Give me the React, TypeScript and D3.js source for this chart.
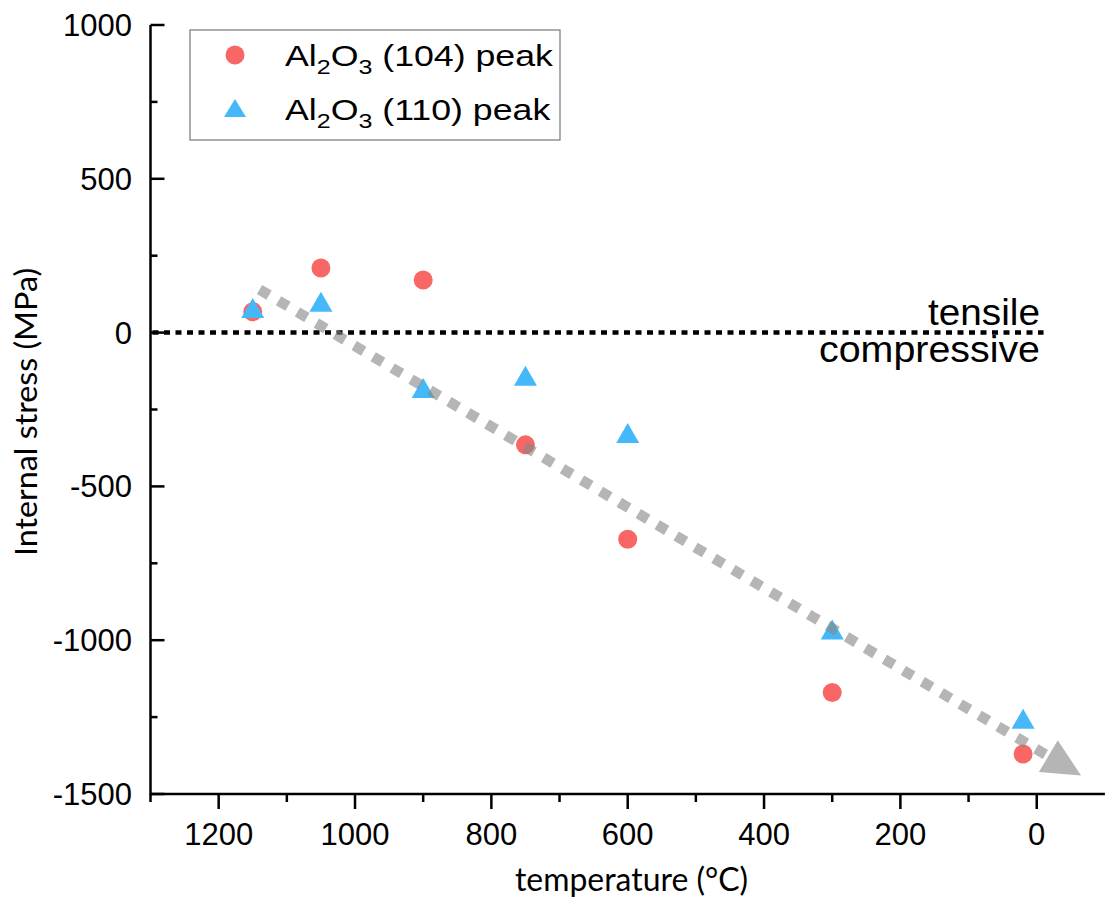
import React from 'react';
import * as d3 from 'd3';

const temps104 = [1150, 1050, 900, 750, 600, 300, 20];
const stress104 = [68, 210, 171, -365, -672, -1170, -1370];
const temps110 = [1150, 1050, 900, 750, 600, 300, 20];
const stress110 = [80, 100, -180, -140, -326, -965, -1255];
const xTicks = [1200, 1000, 800, 600, 400, 200, 0];
const xMinor = [1300, 1100, 900, 700, 500, 300, 100];
const yTicks = [1000, 500, 0, -500, -1000, -1500];
const yMinor = [750, 250, -250, -750, -1250];
const trendStart = [1140, 140];
const trendEnd = [-65, -1440];
const zeroLine = [1300, -10];

const RED = '#F96666';
const BLUE = '#45B8FA';
const TICKFONT = '"Liberation Sans", Arial, sans-serif';
const TITLEFONT = 'Lato, "Open Sans", sans-serif';

export default function App() {
  const W = 1105, H = 910;
  const x = d3.scaleLinear().domain([1300, -100]).range([150.5, 1104.9]);
  const y = d3.scaleLinear().domain([-1500, 1000]).range([794, 25]);
  const x0 = x(1300), y0 = y(-1500);

  const tri = (cx: number, cy: number, w = 23, h = 20) =>
    `M${cx},${cy - h / 2}L${cx + w / 2},${cy + h / 2}L${cx - w / 2},${cy + h / 2}Z`;

  // trend arrow
  const sx = x(trendStart[0]), sy = y(trendStart[1]);
  const ex = x(trendEnd[0]), ey = y(trendEnd[1]);
  const ang = Math.atan2(ey - sy, ex - sx);
  const headLen = 38, headHalf = 18.5;
  const bx = ex - headLen * Math.cos(ang), by = ey - headLen * Math.sin(ang);
  const px = -Math.sin(ang), py = Math.cos(ang);
  const head = `M${ex},${ey}L${bx + headHalf * px},${by + headHalf * py}L${bx - headHalf * px},${by - headHalf * py}Z`;

  const legendRows = [
    { label: '104', color: RED, kind: 'circle' },
    { label: '110', color: BLUE, kind: 'tri' },
  ];

  return (
    <svg width={W} height={H} style={{ position: 'absolute', left: 0, top: 0, background: '#fff' }}>
      {/* axes */}
      <line x1={x0} x2={x(-100)} y1={y0} y2={y0} stroke="#000" strokeWidth={2.5} />
      <line x1={x0} x2={x0} y1={y(1000)} y2={y0 + 1.25} stroke="#000" strokeWidth={2.5} />
      {xTicks.map((t) => (
        <g key={'xt' + t}>
          <line x1={x(t)} x2={x(t)} y1={y0} y2={y0 + 15} stroke="#000" strokeWidth={2.5} />
          <text x={x(t)} y={844.5} textAnchor="middle" fontFamily={TICKFONT} fontSize={31} fill="#000">{t}</text>
        </g>
      ))}
      {xMinor.map((t) => (
        <line key={'xm' + t} x1={x(t)} x2={x(t)} y1={y0} y2={y0 + 8} stroke="#000" strokeWidth={2.5} />
      ))}
      {yTicks.map((t) => (
        <g key={'yt' + t}>
          <line x1={x0} x2={x0 + 14} y1={y(t)} y2={y(t)} stroke="#000" strokeWidth={2.5} />
          <text x={132} y={y(t) + 11} textAnchor="end" fontFamily={TICKFONT} fontSize={31} fill="#000">{t}</text>
        </g>
      ))}
      {yMinor.map((t) => (
        <line key={'ym' + t} x1={x0} x2={x0 + 7} y1={y(t)} y2={y(t)} stroke="#000" strokeWidth={2.5} />
      ))}

      {/* axis titles */}
      <text x={631.5} y={891} textAnchor="middle" fontFamily={TITLEFONT} fontSize={33} fill="#000"
        textLength={233} lengthAdjust="spacingAndGlyphs">temperature (°C)</text>
      <text transform={`translate(37,412) rotate(-90)`} textAnchor="middle" fontFamily={TITLEFONT} fontSize={31}
        fill="#000" textLength={288} lengthAdjust="spacingAndGlyphs">Internal stress (MPa)</text>

      {/* zero line */}
      <line x1={x(zeroLine[0]) + 2} x2={x(zeroLine[1])} y1={y(0)} y2={y(0)} stroke="#000" strokeWidth={4.5}
        strokeDasharray="6 5.5" />
      <text x={1040} y={325} textAnchor="end" fontFamily={TICKFONT} fontSize={37} fill="#000"
        textLength={112} lengthAdjust="spacingAndGlyphs">tensile</text>
      <text x={1040} y={362} textAnchor="end" fontFamily={TICKFONT} fontSize={37} fill="#000"
        textLength={221} lengthAdjust="spacingAndGlyphs">compressive</text>

      {/* data */}
      {temps104.map((t, i) => (
        <circle key={'c' + i} cx={x(t)} cy={y(stress104[i])} r={9.5} fill={RED} />
      ))}
      {temps110.map((t, i) => (
        <path key={'t' + i} d={tri(x(t), y(stress110[i]))} fill={BLUE} />
      ))}

      {/* trend arrow */}
      <g opacity={0.62}>
        <line x1={sx} y1={sy} x2={bx} y2={by} stroke="#888" strokeWidth={10.5} strokeDasharray="11 11" />
        <path d={head} fill="#888" />
      </g>

      {/* legend */}
      <rect x={190} y={30} width={370} height={110} fill="#fff" stroke="#777" strokeWidth={1.2} />
      {legendRows.map((r, i) => {
        const cy = 55 + i * 53;
        const base = 66 + i * 54;
        return (
          <g key={'lg' + i}>
            {r.kind === 'circle' ? (
              <circle cx={235} cy={cy} r={9.5} fill={r.color} />
            ) : (
              <path d={tri(235, cy, 22, 18)} fill={r.color} />
            )}
            <g transform={`translate(285,${base}) scale(1.19,1)`}>
              <text x={0} y={0} fontFamily={TICKFONT} fontSize={30} fill="#000">
                Al<tspan fontSize={21} dy={8}>2</tspan><tspan dy={-8}>O</tspan><tspan fontSize={21} dy={8}>3</tspan>
                <tspan dy={-8}>{` (${r.label}) peak`}</tspan>
              </text>
            </g>
          </g>
        );
      })}
    </svg>
  );
}
